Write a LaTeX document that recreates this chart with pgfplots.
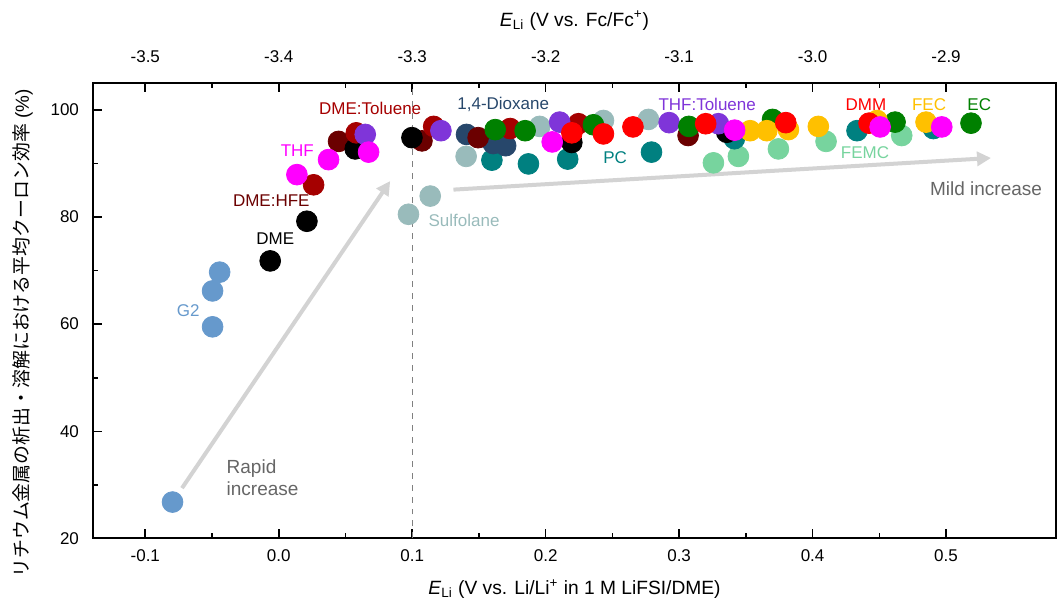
\documentclass[border=0pt]{standalone}
\usepackage{pgfplots}
\pgfplotsset{compat=1.18}
\usepackage{fontspec}
\setmainfont{Liberation Sans}
\newfontfamily\cjk{Noto Sans CJK JP}
\usetikzlibrary{arrows.meta}

\definecolor{cGtwo}{HTML}{6699CC}
\definecolor{cHFE}{HTML}{6B0000}
\definecolor{cTol}{HTML}{A50000}
\definecolor{cTHF}{HTML}{FF00FF}
\definecolor{cTHFTol}{HTML}{7F35D9}
\definecolor{cDiox}{HTML}{27476B}
\definecolor{cSulf}{HTML}{99BBBB}
\definecolor{cPC}{HTML}{008080}
\definecolor{cDMM}{HTML}{FF0000}
\definecolor{cFEC}{HTML}{FFC000}
\definecolor{cEC}{HTML}{008000}
\definecolor{cFEMC}{HTML}{77D49E}
\definecolor{cArrow}{HTML}{D3D3D3}
\definecolor{cNote}{HTML}{666666}

\begin{document}
\begin{tikzpicture}
\pgfplotsset{
  base/.style={
    width=481.6pt, height=227.8pt, scale only axis,
    ymin=20, ymax=105,
    tick align=inside,
    major tick length=4.5pt, minor tick length=2.5pt,
    every tick/.style={black, line width=0.8pt},
    axis line style={line width=1pt},
    tick label style={font=\fontsize{8.5}{10}\selectfont},
    label style={font=\fontsize{9.6}{11}\selectfont},
    /pgf/number format/assume math mode=true,
    xticklabel style={/pgf/number format/fixed, /pgf/number format/fixed zerofill,
      /pgf/number format/precision=1},
  },
  dot/.style={only marks, mark=*, mark size=5.2pt, color=#1},
}

% top axis (Fc/Fc+ scale)
\begin{axis}[base,
  xmin=-3.5392, xmax=-2.8176,
  axis x line*=top, axis y line=none,
  xtick={-3.5,-3.4,-3.3,-3.2,-3.1,-3.0,-2.9}, minor x tick num=1,
  xticklabel style={yshift=6.5pt},
  xlabel style={yshift=3.5pt},
  xlabel={\textit{E}\textsubscript{Li} (V vs. Fc/Fc\textsuperscript{+})},
]
\end{axis}

\begin{axis}[base, name=main,
  xmin=-0.1392, xmax=0.5824,
  xtick pos=bottom, ytick pos=left,
  xtick={-0.1,0,0.1,0.2,0.3,0.4,0.5}, minor x tick num=1,
  ytick={20,40,60,80,100}, minor y tick num=1,
  xticklabel style={yshift=-2pt},
  yticklabel style={xshift=-3.5pt},
  ylabel style={at={(ticklabel cs:0.45,2pt)}, font=\fontsize{9.45}{11}\selectfont},
  xlabel style={yshift=-2pt},
  xlabel={\textit{E}\textsubscript{Li} (V vs. Li/Li\textsuperscript{+} in 1 M LiFSI/DME)},
  ylabel={{\cjk リチウム金属の析出・溶解における平均クーロン効率} (\%)},
]
\draw[dashed, gray, line width=0.5pt] (axis cs:0.1,20) -- (axis cs:0.1,105);

\draw[cArrow, line width=2pt, -{Triangle[length=7pt, width=7pt]}]
  (axis cs:-0.0725,29.4) -- (axis cs:0.0835,86.7);
\draw[cArrow, line width=2pt, -{Triangle[length=7pt, width=7pt]}]
  (axis cs:0.1309,85.1) -- (axis cs:0.5337,91.0);

% FEMC
\addplot[dot=cFEMC] coordinates {
 (0.3257,90.1) (0.3444,91.3) (0.3744,92.7) (0.4101,94.1) (0.4668,95.2)};
% PC
\addplot[dot=cPC] coordinates {
 (0.1597,90.6) (0.1871,89.9) (0.2165,90.8) (0.2793,92.1) (0.3414,94.6) (0.4333,96.1) (0.4905,96.5)};
% Sulfolane
\addplot[dot=cSulf] coordinates {
 (0.0972,80.5) (0.1135,83.9) (0.1404,91.3) (0.1955,96.9) (0.2433,98.0) (0.2770,98.2)};
% 1,4-Dioxane
\addplot[dot=cDiox] coordinates {
 (0.1407,95.4) (0.1607,93.7) (0.1700,93.3)};
% G2
\addplot[dot=cGtwo] coordinates {
 (-0.0796,26.8) (-0.0443,69.7) (-0.0496,66.2) (-0.0496,59.5)};
% DME:HFE
\addplot[dot=cHFE] coordinates {
 (0.0448,94.1) (0.1073,94.2) (0.1494,94.8) (0.3067,95.2)};
% DME
\addplot[dot=black] coordinates {
 (-0.0064,71.8) (0.0211,79.2) (0.0573,92.7) (0.0998,94.8) (0.2196,93.9) (0.3357,95.8)};
% DME:Toluene
\addplot[dot=cTol] coordinates {
 (0.0261,86.0) (0.0581,95.7) (0.1161,96.9) (0.1734,96.5) (0.2246,97.4)};
% THF:Toluene
\addplot[dot=cTHFTol] coordinates {
 (0.0648,95.4) (0.1215,96.1) (0.2105,97.7) (0.2925,97.6) (0.3294,97.4)};
% EC
\addplot[dot=cEC] coordinates {
 (0.1622,96.3) (0.1846,96.1) (0.2358,97.2) (0.3073,96.9) (0.3700,98.2) (0.4618,97.7) (0.5187,97.5)};
% FEC
\addplot[dot=cFEC] coordinates {
 (0.3532,96.1) (0.3657,96.1) (0.3819,96.3) (0.4043,96.9) (0.4483,98.0) (0.4850,97.7)};
% DMM
\addplot[dot=cDMM] coordinates {
 (0.2196,95.7) (0.2433,95.5) (0.2654,96.8) (0.3199,97.4) (0.3799,97.6) (0.4423,97.5)};
% THF
\addplot[dot=cTHF] coordinates {
 (0.0136,87.9) (0.0373,90.7) (0.0673,92.1) (0.2049,94.0) (0.3416,96.2) (0.4506,96.8) (0.4968,96.8)};

\begin{scope}[every node/.style={font=\fontsize{8.5}{10}\selectfont, inner sep=0pt}]
\node[text=cGtwo] at (axis cs:-0.0678,62.6) {G2};
\node[text=black] at (axis cs:-0.0026,76.0) {DME};
\node[text=cHFE] at (axis cs:-0.0056,83.1) {DME:HFE};
\node[text=cTHF] at (axis cs:0.0139,92.4) {THF};
\node[text=cTol] at (axis cs:0.0685,100.2) {DME:Toluene};
\node[text=cDiox] at (axis cs:0.1682,101.0) {1,4-Dioxane};
\node[text=cSulf, anchor=west] at (axis cs:0.1120,79.4) {Sulfolane};
\node[text=cPC] at (axis cs:0.2521,91.1) {PC};
\node[text=cTHFTol] at (axis cs:0.3210,101.0) {THF:Toluene};
\node[text=cDMM] at (axis cs:0.4400,101.0) {DMM};
\node[text=cFEC] at (axis cs:0.4873,101.0) {FEC};
\node[text=cEC] at (axis cs:0.5249,101.0) {EC};
\node[text=cFEMC] at (axis cs:0.4393,92.0) {FEMC};
\node[text=cNote, font=\fontsize{9.5}{11}\selectfont] at (axis cs:0.5300,85.3) {Mild increase};
\node[text=cNote, font=\fontsize{9.5}{11}\selectfont, align=left, anchor=west]
  at (axis cs:-0.0393,31.4) {Rapid\\increase};
\end{scope}
\end{axis}
% page margins as in the reference
\path (main.north west) ++(-46.5pt,41.5pt);
\path (main.south east) ++(0.5pt,-29.5pt);
\end{tikzpicture}
\end{document}
